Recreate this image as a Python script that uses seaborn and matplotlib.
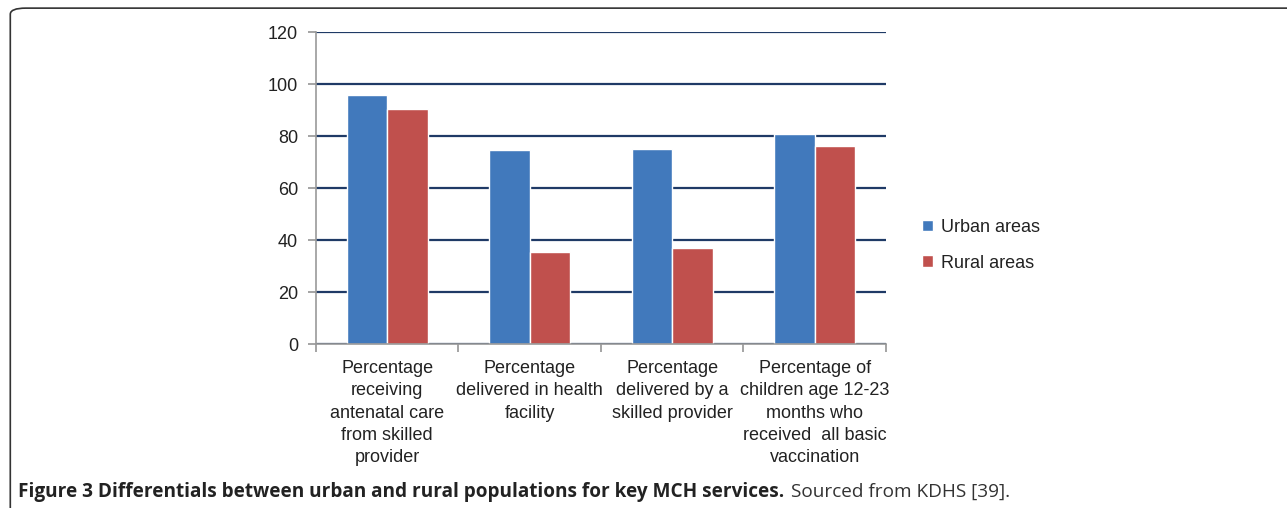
import seaborn as sns
import matplotlib.pyplot as plt
import pandas as pd
from matplotlib.patches import FancyBboxPatch

categories = ["Percentage\nreceiving\nantenatal care\nfrom skilled\nprovider",
              "Percentage\ndelivered in health\nfacility",
              "Percentage\ndelivered by a\nskilled provider",
              "Percentage of\nchildren age 12-23\nmonths who\nreceived  all basic\nvaccination"]
urban = [95.8, 74.6, 74.9, 80.8]
rural = [90.3, 35.3, 36.8, 76.3]
series = ["Urban areas", "Rural areas"]

df = pd.DataFrame({
    "cat": categories * 2,
    "val": urban + rural,
    "area": [series[0]] * 4 + [series[1]] * 4,
})

sns.set_theme(style="white")
plt.rcParams["font.family"] = ["Liberation Sans", "DejaVu Sans"]

fig = plt.figure(figsize=(12.87, 5.08), dpi=100)
ax = fig.add_axes([0.2455, 0.3228, 0.4429, 0.6142])

p1 = sns.barplot(data=df, x="cat", y="val", hue="area", order=categories,
                 hue_order=series, palette=["#4179BC", "#C0504D"],
                 width=0.57, saturation=1, ax=ax, legend=True)

ax.set_ylim(0, 120)
ax.set_xlim(-0.5, 3.5)
ax.set_yticks(range(0, 121, 20))
ax.yaxis.grid(True, color="#1F3A66", linewidth=1.6)
ax.set_axisbelow(True)
ax.set_xlabel("")
ax.set_ylabel("")
for s in ["top", "right"]:
    ax.spines[s].set_visible(False)
ax.spines["left"].set_color("#999999")
ax.spines["bottom"].set_color("#999999")
ax.spines["left"].set_linewidth(1.2)
ax.spines["bottom"].set_linewidth(1.2)
ax.tick_params(axis="y", left=True, length=6, color="#999999", labelsize=13,
               labelcolor="#222222", pad=7)
ax.set_xticks([-0.5, 0.5, 1.5, 2.5, 3.5])
ax.set_xticklabels([])
ax.tick_params(axis="x", bottom=True, length=6, color="#999999")
for i, c in enumerate(categories):
    ax.text(i, -6.0, c, ha="center", va="top", fontsize=13, color="#222222",
            linespacing=1.42)

leg = ax.legend(loc="center left", bbox_to_anchor=(1.035, 0.317), frameon=False,
                fontsize=13, handlelength=0.6, handleheight=0.6,
                handletextpad=0.45, labelspacing=1.05)
for t in leg.get_texts():
    t.set_color("#222222")

frame = FancyBboxPatch((0.008, -0.05), 1.1, 1.034, transform=fig.transFigure,
                       boxstyle="round,pad=0,rounding_size=0.012",
                       facecolor="none", edgecolor="#333333", linewidth=1.2)
fig.patches.append(frame)

cap = fig.text(0.014, 0.022, "Figure 3 Differentials between urban and rural populations for key MCH services.",
               fontsize=13.7, fontweight="bold", family=["Open Sans", "DejaVu Sans"],
               color="#222222", ha="left", va="baseline")
fig.canvas.draw()
bb = cap.get_window_extent(renderer=fig.canvas.get_renderer())
x_src = (bb.x1 + 7) / fig.bbox.width
fig.text(x_src, 0.022, "Sourced from KDHS [39].", fontsize=13.7,
         family=["Open Sans", "DejaVu Sans"], color="#333333", ha="left", va="baseline")

fig.savefig("out.png", dpi=100)
